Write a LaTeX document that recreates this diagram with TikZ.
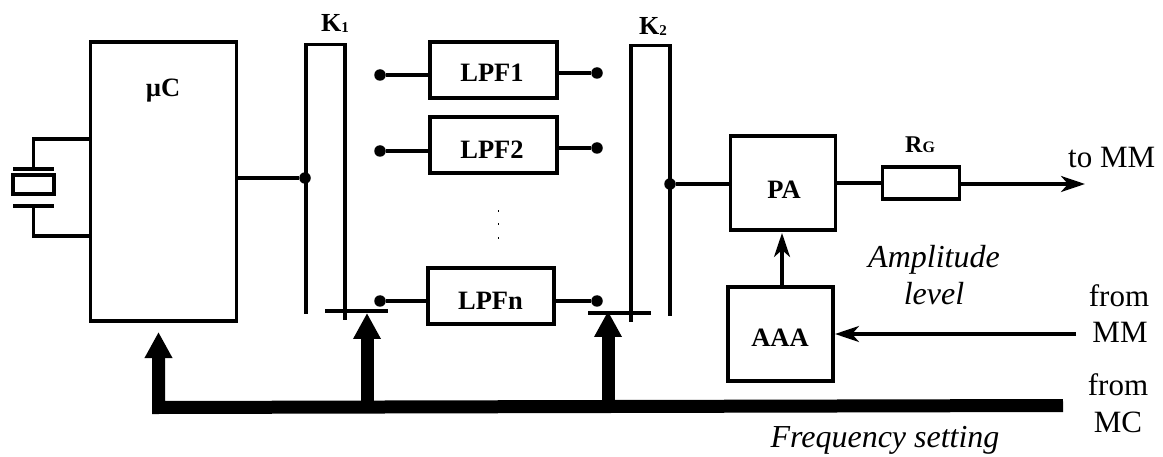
\documentclass[tikz,border=0pt]{standalone}
\usepackage{fontspec}
\setmainfont{Liberation Serif}
\usetikzlibrary{arrows.meta}
\newcommand{\fs}[1]{\fontsize{#1}{#1}\selectfont}
\tikzset{
  wire/.style={line width=3.4pt},
  blk/.style={draw,line width=3.6pt,outer sep=0pt,inner sep=0pt,font=\bfseries\fs{26}},
  jdot/.style={circle,fill=black,inner sep=0pt,outer sep=0pt,minimum size=11.5pt},
  thinarrow/.style={line width=3.4pt,-{Stealth[length=24pt,width=16pt,inset=7pt]}},
  busarrow/.style={line width=13pt,-{Triangle[length=26pt,width=26pt]}},
  bold lab/.style={anchor=base,inner sep=0pt,font=\bfseries\fs{26.5}},
  plain lab/.style={anchor=base,inner sep=0pt,font=\fs{31}},
  ital lab/.style={anchor=base,inner sep=0pt,font=\itshape\fs{32}},
  tick/.style={fill=black,inner sep=0pt,minimum width=1pt,minimum height=2.5pt}
}
\begin{document}
\begin{tikzpicture}[x=1pt,y=-1pt]
\useasboundingbox (0,0) rectangle (1163,457);
% blocks
\node[blk,minimum width=146pt,minimum height=279pt] (uc) at (163.5,181.5) {};
\node[blk,minimum width=126.5pt,minimum height=56pt] (lpf1) at (493.5,70) {};
\node[blk,minimum width=126.5pt,minimum height=56pt] (lpf2) at (493.5,145) {};
\node[blk,minimum width=126.5pt,minimum height=56pt] (lpfn) at (491,296) {};
\node[blk,minimum width=105pt,minimum height=94pt] (pa) at (783,183) {};
\node[blk,minimum width=105pt,minimum height=94pt] (aaa) at (780.5,334) {};
\node[blk,minimum width=77pt,minimum height=32pt] (rg) at (921,183) {};
\node[draw,line width=3.6pt,outer sep=0pt,inner sep=0pt,minimum width=41pt,minimum height=19pt] (xtal) at (33.5,184.5) {};
% block labels
\node[bold lab] (tuc) at (163,97) {µC};
\node[bold lab] (tl1) at (492,82) {LPF1};
\node[bold lab] (tl2) at (492,159) {LPF2};
\node[bold lab] (tln) at (490.5,310) {LPFn};
\node[bold lab] (tpa) at (784,199) {PA};
\node[bold lab] (taaa) at (780,346) {AAA};
\node[anchor=base west,inner sep=0pt,font=\bfseries\fs{26}] (tk1) at (321,32) {K\raisebox{-1pt}{\fs{15}1}};
\node[anchor=base west,inner sep=0pt,font=\bfseries\fs{26}] (tk2) at (639,35) {K\raisebox{-1pt}{\fs{15}2}};
\node[anchor=base west,inner sep=0pt,font=\bfseries\fs{24}] (trg) at (905,153) {R{\fs{16}G}};
% free labels
\node[plain lab,anchor=base west] (tomm) at (1068,168) {to MM};
\node[plain lab] (f1) at (1119,307) {from};
\node[plain lab] (m1) at (1120,343) {MM};
\node[plain lab] (f2) at (1118,395) {from};
\node[plain lab] (m2) at (1118,432) {MC};
\node[ital lab] (amp) at (934,268) {Amplitude};
\node[ital lab] (lev) at (934,305) {level};
\node[ital lab] (freq) at (885,447) {Frequency setting};
% contact dots
\node[jdot] (l1) at (380,75) {};
\node[jdot] (l2) at (380,151) {};
\node[jdot] (l3) at (380,301) {};
\node[jdot] (r1) at (597,73) {};
\node[jdot] (r2) at (597,148) {};
\node[jdot] (r3) at (597,301) {};
\node[jdot] (jk1) at (305,178) {};
\node[jdot] (jk2) at (670,184) {};
% vertical ellipsis
\node[tick] (e1) at (498,211) {};
\node[tick] (e2) at (498,224) {};
\node[tick] (e3) at (498,238) {};
% switches
\coordinate (k1a) at (306,314); \coordinate (k1b) at (306,44.5);
\coordinate (k1c) at (345,44.5); \coordinate (k1d) at (345,320);
\coordinate (k2a) at (631,322); \coordinate (k2b) at (631,45.5);
\coordinate (k2c) at (670,45.5); \coordinate (k2d) at (670,316);
\draw[wire,line join=miter] (k1a) -- (k1b) -- (k1c) -- (k1d);
\draw[wire,line join=miter] (k2a) -- (k2b) -- (k2c) -- (k2d);
\coordinate (b1a) at (325,311); \coordinate (b1b) at (388,311);
\coordinate (b2a) at (588,313); \coordinate (b2b) at (651,313);
\draw[wire] (b1a) -- (b1b);
\draw[wire] (b2a) -- (b2b);
% wires
\draw[wire] (uc.east |- jk1) -- (jk1);
\draw[wire] (l1) -- (lpf1.west |- l1);
\draw[wire] (l2) -- (lpf2.west |- l2);
\draw[wire] (l3) -- (lpfn.west |- l3);
\draw[wire] (lpf1.east |- r1) -- (r1);
\draw[wire] (lpf2.east |- r2) -- (r2);
\draw[wire] (lpfn.east |- r3) -- (r3);
\draw[wire] (jk2) -- (pa.west |- jk2);
\draw[wire] (pa.east |- rg.west) -- (rg.west);
\coordinate (outtip) at (1085,184);
\draw[thinarrow] (rg.east |- outtip) -- (outtip);
\coordinate (ppa) at (782,233);
\draw[thinarrow] (aaa.north -| ppa) -- (ppa);
\coordinate (mmin) at (1076,334);
\coordinate (aaatip) at (835,334);
\draw[thinarrow] (mmin) -- (aaatip);
% crystal
\coordinate (xt) at (33.5,139); \coordinate (xb) at (33.5,236);
\coordinate (pt) at (33.5,169); \coordinate (pb) at (33.5,206);
\coordinate (ptl) at (13,169); \coordinate (ptr) at (54,169);
\coordinate (pbl) at (13,206); \coordinate (pbr) at (54,206);
\draw[wire] (ptl) -- (ptr);
\draw[wire] (pbl) -- (pbr);
\draw[wire,line join=miter] (uc.west |- xt) -- (xt) -- (pt);
\draw[wire,line join=miter] (uc.west |- xb) -- (xb) -- (pb);
% bus
\coordinate (busend) at (1063,405.5);
\coordinate (buscorner) at (158.5,407.5);
\coordinate (ucip) at (158.5,332);
\coordinate (k1tip) at (367,313);
\coordinate (k2tip) at (608,311);
\coordinate (k1foot) at (367,407);
\coordinate (k2foot) at (608,406);
\draw[line width=13pt,line join=miter] (busend) -- (buscorner) -- (158.5,345);
\draw[busarrow] (buscorner) -- (ucip);
\draw[busarrow] (k1foot) -- (k1tip);
\draw[busarrow] (k2foot) -- (k2tip);
\end{tikzpicture}
\end{document}
